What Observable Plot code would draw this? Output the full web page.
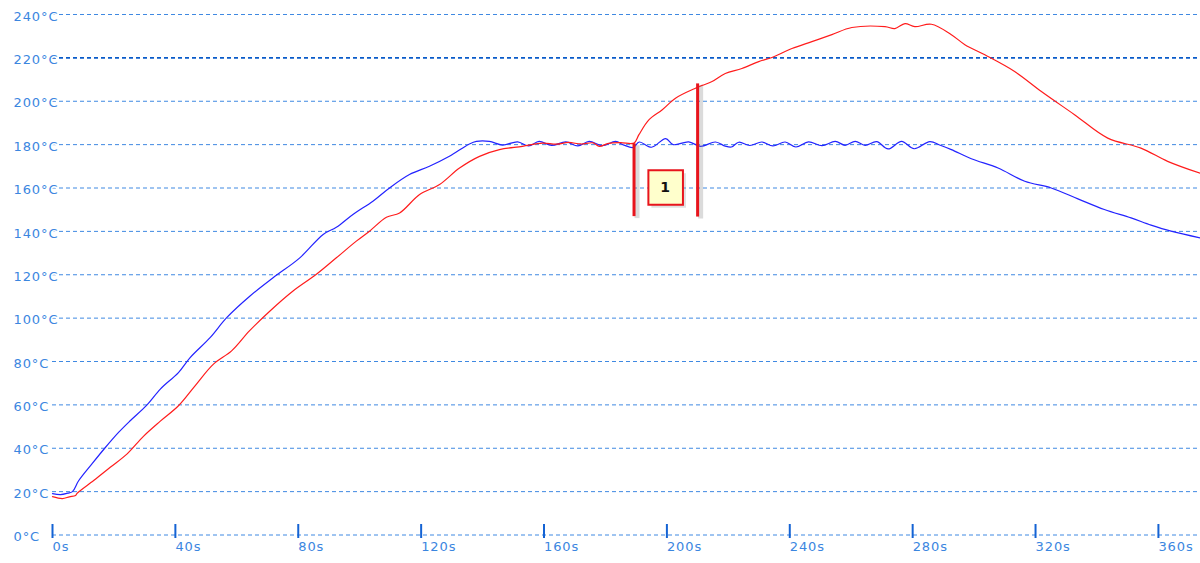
<!DOCTYPE html>
<html>
<head>
<meta charset="utf-8">
<script src="https://cdn.jsdelivr.net/npm/d3@7"></script>
<script src="https://cdn.jsdelivr.net/npm/@observablehq/plot@0.6"></script>
<style>
  html, body { margin: 0; padding: 0; background: #ffffff; }
  #chart svg { display: block; }
  #chart svg text { letter-spacing: 0.9px; }
</style>
</head>
<body>
<div id="chart"></div>
<script>
// ---- data (seconds, °C) ----
const xTicks = [0, 40, 80, 120, 160, 200, 240, 280, 320, 360];
const yTicks = [0, 20, 40, 60, 80, 100, 120, 140, 160, 180, 200, 220, 240];

const blueSeries = [
  [0,19.1],[2.6,18.6],[5,19.3],[6.5,20],[8.5,25],[12.9,32.9],[17,40],[21.5,47.3],[25.3,52.7],
  [30.7,59.9],[35.1,67.3],[41,74.9],[44.8,81.8],[51.3,91],[56.7,100.2],[64.3,110.2],[71.8,118.6],
  [80.5,127.8],[88.1,138.6],[92.4,141.9],[97.8,147.8],[104.3,153.9],[109.7,160],[116.2,166.2],
  [122.7,170],[129.2,174.6],[135.7,180.3],[138,181.5],[142.2,181.5],[146.5,179.8],[151.4,181.3],
  [155,179.4],[158.4,181.5],[162.5,179.6],[167.1,181.3],[171,179.4],[174.7,181.5],[179,179.5],
  [183.3,181.5],[186,179.8],[189,178.7],[191,181.2],[195,178.8],[199.6,182.8],[202,180],
  [207.1,181.3],[211,179.2],[215.8,181.2],[219,179.3],[221,178.9],[223.4,181.1],[227,179.6],
  [230.9,181.2],[234.5,179.4],[238.5,181.2],[242,178.9],[246.1,181.3],[250.5,179.5],[254.8,181.5],
  [258,179.7],[261.3,181.5],[264.5,179.7],[268.3,181.4],[272,178.0],[276.4,181.5],[280.5,178.1],
  [285.6,181.4],[289,179.7],[292.6,177.7],[299.1,173.5],[307.8,169.2],[316.5,163.1],[325.1,160],
  [333.8,155],[342.4,150.1],[351.1,146.2],[357.6,142.9],[364.1,140.1],[373.6,137]
];

const redSeries = [
  [0,17.7],[3.2,16.8],[5.5,17.6],[7.5,18.2],[8,19.2],[13.4,25.1],[18.8,31.2],[24.3,37.4],
  [29.6,45.5],[35.1,52.5],[41,59.6],[46.4,68.8],[52.4,78.8],[58.3,84.9],[64.1,94.1],[70.8,103.3],
  [78.3,112.5],[85.9,120.2],[92.4,127.8],[98.9,135.5],[103.2,140.1],[108.7,146.5],[113,148.5],
  [119.5,157],[126,161.6],[132.5,169.2],[139,174.6],[145.5,177.7],[153,179.2],[159.5,180.7],
  [164,180.2],[168,181],[172,180.3],[176,180.8],[178,179.2],[181,180.6],[185,180.9],[189.3,180.7],
  [190.9,184.6],[194.2,191.5],[198.5,196.1],[202.8,201.4],[209.3,206],[211.5,207.3],[214.7,209.1],
  [219,212.8],[224.4,215.1],[229.9,218.3],[234.2,220.2],[240.7,224.3],[247.2,227.5],[253.7,230.7],
  [260.2,234],[271,234.4],[274.2,233.5],[277.5,235.8],[280.7,234.4],[286.1,235.5],[292.6,230.7],
  [297,226.1],[303.5,221.4],[313.2,213.7],[321.9,204.5],[332.7,193.8],[343.5,183],[354.3,178.4],
  [363,172.3],[373.6,166.8]
];

// annotation: two cursor bars and a numbered marker
const cursorTimes = [189.3, 210];
const cursorLow = [146.8, 146.6];
const cursorHigh = [180.4, 208];
const markerLabels = [{t: 199.6, T: 160.2, label: "1"}];

const cursors = cursorTimes.map((t, i) => ({t, lo: cursorLow[i], hi: cursorHigh[i]}));

// ---- styles ----
const gridColor = "#3f89e2";
const gridDark = "#0a5bc9";
const labelColor = "#3b86df";
const tickColor = "#1463d4";
const font = "DejaVu Sans, Verdana, sans-serif";

const chart = Plot.plot({
  width: 1200,
  height: 563,
  marginLeft: 52,
  marginRight: 0,
  marginTop: 14,
  marginBottom: 28.5,
  style: {fontFamily: font, fontSize: "13px", background: "#ffffff", overflow: "visible"},
  x: {domain: [0, 373.7]},
  y: {domain: [0, 240]},
  marks: [
    Plot.ruleY(yTicks.filter(d => d !== 220), {stroke: gridColor, strokeDasharray: "4,3", strokeWidth: 1}),
    Plot.ruleY(yTicks.filter(d => d === 220), {stroke: gridDark, strokeDasharray: "4,3", strokeWidth: 1.7}),
    Plot.line(blueSeries, {x: d => d[0], y: d => d[1], stroke: "#2323ff", strokeWidth: 1.2, curve: "catmull-rom"}),
    Plot.line(redSeries, {x: d => d[0], y: d => d[1], stroke: "#ff1c1c", strokeWidth: 1.2, curve: "catmull-rom"}),
    // cursor shadows and bars
    Plot.ruleX(cursors, {x: "t", y1: "lo", y2: "hi", stroke: "#888", strokeOpacity: 0.3, strokeWidth: 5, dx: 3, dy: 2}),
    Plot.ruleX(cursors, {x: "t", y1: "lo", y2: "hi", stroke: "#e8141c", strokeWidth: 3}),
    // marker box
    Plot.dot(markerLabels, {x: "t", y: "T", symbol: "square", r: 19.5, fill: "#999", fillOpacity: 0.3, dx: 3, dy: 3}),
    Plot.dot(markerLabels, {x: "t", y: "T", symbol: "square", r: 19.5, fill: "#ffffcc", stroke: "#e8141c", strokeWidth: 2}),
    Plot.text(markerLabels, {x: "t", y: "T", text: "label", fill: "#111", fontSize: 14, fontWeight: "bold"}),
    // axes
    Plot.axisY({ticks: yTicks, tickSize: 0, tickPadding: 39, textAnchor: "start", dy: 2,
      tickFormat: d => `${d}°C`, fill: labelColor, textStroke: "#ffffff", textStrokeWidth: 3,
      label: null, fontSize: 13}),
    Plot.axisX({ticks: xTicks, tickSize: 14, dy: -10.5, tickPadding: 3.5, textAnchor: "start",
      tickFormat: d => `${d}s`, stroke: tickColor, strokeWidth: 2, fill: labelColor,
      label: null, fontSize: 13})
  ]
});

document.getElementById("chart").appendChild(chart);
</script>
</body>
</html>
